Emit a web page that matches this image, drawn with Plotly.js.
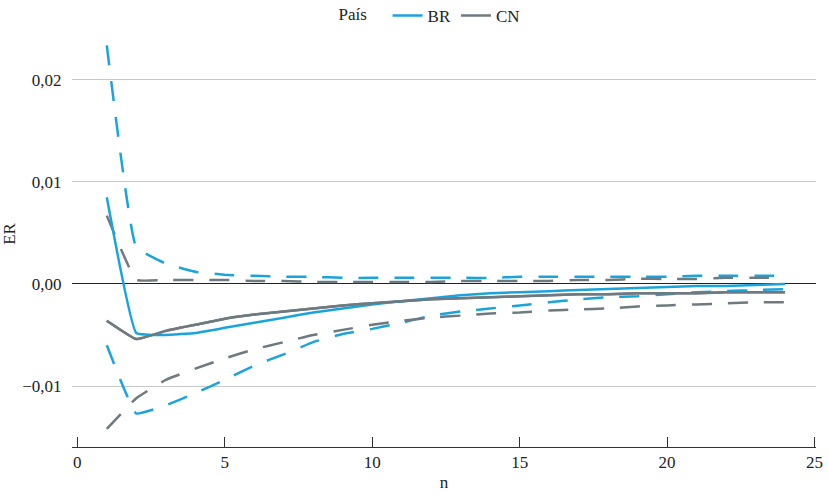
<!DOCTYPE html>
<html>
<head>
<meta charset="utf-8">
<script src="https://cdn.plot.ly/plotly-3.0.1.min.js"></script>
<style>html,body{margin:0;padding:0;background:#fff;}#chart{width:828px;height:496px;}</style>
</head>
<body>
<div id="chart"></div>
<script>
const n = [1,2,3,4,5,6,7,8,9,10,11,12,13,14,15,16,17,18,19,20,21,22,23,24];

const brMean  = [0.0085,-0.0048,-0.0050,-0.0048,-0.0043,-0.0038,-0.0033,-0.0028,-0.0024,-0.0020,-0.0017,-0.0014,-0.0011,-0.0009,-0.0008,-0.0007,-0.0006,-0.0005,-0.0004,-0.0003,-0.0002,-0.0002,-0.0001,0.0000];
const brUpper = [0.0234,0.0036,0.0020,0.0012,0.0009,0.0008,0.0007,0.0007,0.0006,0.0006,0.0006,0.0006,0.0006,0.0006,0.0007,0.0007,0.0007,0.0007,0.0007,0.0007,0.0008,0.0008,0.0008,0.0008];
const brLower = [-0.0060,-0.0127,-0.0119,-0.0107,-0.0094,-0.0080,-0.0069,-0.0057,-0.0049,-0.0044,-0.0038,-0.0031,-0.0027,-0.0024,-0.0021,-0.0018,-0.0015,-0.0013,-0.0012,-0.0010,-0.0008,-0.0007,-0.0006,-0.0005];

const cnMean  = [-0.0036,-0.0054,-0.0046,-0.0040,-0.0034,-0.0030,-0.0027,-0.0024,-0.0021,-0.0019,-0.0017,-0.0015,-0.0014,-0.0013,-0.0012,-0.0011,-0.0010,-0.0010,-0.0009,-0.0009,-0.0009,-0.0008,-0.0008,-0.0008];
const cnUpper = [0.0067,0.0004,0.0004,0.0004,0.0004,0.0003,0.0003,0.0002,0.0002,0.0002,0.0002,0.0002,0.0003,0.0003,0.0003,0.0003,0.0004,0.0004,0.0005,0.0005,0.0005,0.0006,0.0006,0.0006];
const cnLower = [-0.0142,-0.0112,-0.0094,-0.0083,-0.0073,-0.0064,-0.0057,-0.0050,-0.0045,-0.0040,-0.0036,-0.0033,-0.0031,-0.0029,-0.0028,-0.0026,-0.0025,-0.0024,-0.0022,-0.0021,-0.0020,-0.0019,-0.0018,-0.0018];

const countries = ['BR','CN'];
const xTicks = [0,5,10,15,20,25];
const yTicks = [-0.01,0,0.01,0.02];

const BLUE = '#1AA4DD';
const GRAY = '#6E7A80';
const DASH = '20px,16px';

function tr(y, name, color, dashed, show) {
  return {
    x: n, y: y, type: 'scatter', mode: 'lines', name: name,
    legendgroup: name, showlegend: show, hoverinfo: 'skip',
    line: {color: color, width: 2.5, dash: dashed ? DASH : 'solid', shape: 'spline', smoothing: 0.3}
  };
}

const data = [
  tr(brUpper, countries[0], BLUE, true, false),
  tr(brLower, countries[0], BLUE, true, false),
  tr(cnUpper, countries[1], GRAY, true, false),
  tr(cnLower, countries[1], GRAY, true, false),
  tr(cnMean, countries[1], GRAY, false, false),
  tr(brMean, countries[0], BLUE, false, true),
  tr(cnMean, countries[1], GRAY, false, true)
];

const FONT = "'Liberation Serif', 'Times New Roman', serif";
const TXT = '#222';

const layout = {
  width: 828, height: 496,
  margin: {l: 72, r: 12, t: 21, b: 49, autoexpand: false},
  paper_bgcolor: '#fff', plot_bgcolor: '#fff',
  separators: ', ',
  font: {family: FONT, size: 17, color: TXT},
  showlegend: true,
  legend: {
    orientation: 'h', x: 0.4825, xanchor: 'center', y: 1.012, yanchor: 'middle',
    title: {text: 'País&nbsp;&nbsp;&nbsp;', font: {family: FONT, size: 17, color: TXT}},
    font: {family: FONT, size: 17, color: TXT},
    itemwidth: 30, traceorder: 'normal'
  },
  xaxis: {
    range: [-0.18, 25.05],
    tickvals: xTicks,
    ticks: 'inside', ticklen: 10, tickcolor: '#333', tickwidth: 1,
    showline: true, linecolor: '#333', linewidth: 1,
    showgrid: false, zeroline: false,
    title: {text: 'n', font: {family: FONT, size: 17, color: TXT}, standoff: 4},
    tickfont: {family: FONT, size: 17, color: TXT}
  },
  yaxis: {
    range: [-0.01598, 0.02578],
    tickvals: yTicks,
    tickformat: '.2f',
    ticks: 'outside', ticklen: 6, tickcolor: 'rgba(0,0,0,0)',
    showgrid: true, gridcolor: '#C8C8C8', gridwidth: 1,
    zeroline: true, zerolinecolor: '#222', zerolinewidth: 1,
    showline: false,
    title: {text: 'ER', font: {family: FONT, size: 17, color: TXT}, standoff: 12},
    tickfont: {family: FONT, size: 17, color: TXT}
  }
};

Plotly.newPlot('chart', data, layout, {displayModeBar: false, staticPlot: true});
</script>
</body>
</html>
